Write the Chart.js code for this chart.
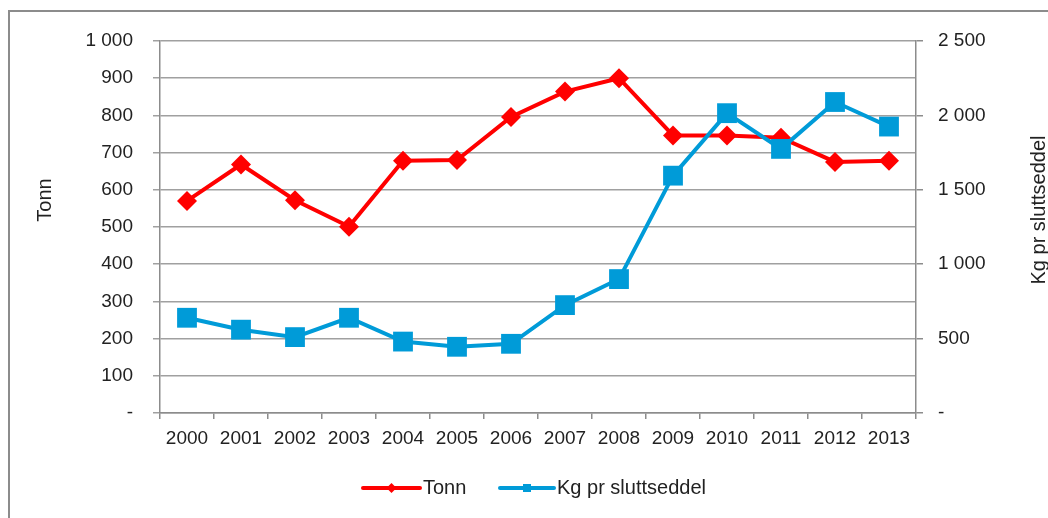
<!DOCTYPE html>
<html>
<head>
<meta charset="utf-8">
<script src="https://cdn.jsdelivr.net/npm/chart.js@4/dist/chart.umd.min.js"></script>
<style>
  html, body { margin: 0; padding: 0; background: #fff; overflow: hidden; width: 1048px; height: 518px; }
  #frame { position: absolute; left: 8px; top: 10px; width: 1200px; height: 700px; border-left: 2px solid #8c8c8c; border-top: 2px solid #8c8c8c; }
  #c { position: absolute; left: 0; top: 0; }
</style>
</head>
<body>
<div id="frame"></div>
<canvas id="c" width="1048" height="518"></canvas>
<script>
const years = ['2000','2001','2002','2003','2004','2005','2006','2007','2008','2009','2010','2011','2012','2013'];
const tonn = [570, 668, 572, 501, 678, 680, 796, 864, 900, 746, 746, 740, 675, 678];
const kgPrSluttseddel = [640, 560, 510, 640, 480, 445, 465, 725, 900, 1595, 2015, 1775, 2090, 1925];
const leftTitle = 'Tonn';
const rightTitle = 'Kg pr sluttseddel';
const seriesNames = ['Tonn', 'Kg pr sluttseddel'];

const RED = '#ff0000';
const BLUE = '#009bd8';
const FONT = "'Liberation Sans', Arial, sans-serif";

function fmt(v) {
  if (v === 0) return '-';
  return String(v).replace(/\B(?=(\d{3})+(?!\d))/g, ' ');
}

const extras = {
  id: 'extras',
  afterDraw(chart) {
    const ctx = chart.ctx;
    ctx.save();
    ctx.fillStyle = '#222';
    ctx.font = '20px ' + FONT;
    ctx.textAlign = 'center';
    ctx.textBaseline = 'middle';
    // axis titles
    ctx.save();
    ctx.translate(45, 200);
    ctx.rotate(-Math.PI / 2);
    ctx.fillText(leftTitle, 0, 0);
    ctx.restore();
    ctx.save();
    ctx.translate(1039, 210);
    ctx.rotate(-Math.PI / 2);
    ctx.fillText(rightTitle, 0, 0);
    ctx.restore();
    // legend
    const ly = 488;
    const items = [
      { x0: 363, x1: 420, color: RED, shape: 'diamond', text: seriesNames[0] },
      { x0: 500, x1: 554, color: BLUE, shape: 'square', text: seriesNames[1] }
    ];
    items.forEach(it => {
      ctx.strokeStyle = it.color;
      ctx.lineWidth = 4;
      ctx.lineCap = 'round';
      ctx.beginPath();
      ctx.moveTo(it.x0, ly);
      ctx.lineTo(it.x1, ly);
      ctx.stroke();
      ctx.fillStyle = it.color;
      const cx = (it.x0 + it.x1) / 2;
      ctx.beginPath();
      if (it.shape === 'diamond') {
        ctx.moveTo(cx, ly - 5); ctx.lineTo(cx + 5, ly); ctx.lineTo(cx, ly + 5); ctx.lineTo(cx - 5, ly);
        ctx.closePath();
      } else {
        ctx.rect(cx - 4, ly - 4, 8, 8);
      }
      ctx.fill();
      ctx.fillStyle = '#222';
      ctx.textAlign = 'left';
      ctx.fillText(it.text, it.x1 + 3, ly);
    });
    ctx.restore();
  }
};

new Chart(document.getElementById('c'), {
  type: 'line',
  data: {
    labels: years,
    datasets: [
      {
        label: seriesNames[0],
        data: tonn,
        yAxisID: 'y',
        borderColor: RED,
        backgroundColor: RED,
        borderWidth: 4,
        pointStyle: 'rectRot',
        pointRadius: 10,
        pointBorderWidth: 0,
        pointBackgroundColor: RED,
        tension: 0,
        order: 2
      },
      {
        label: seriesNames[1],
        data: kgPrSluttseddel,
        yAxisID: 'y2',
        borderColor: BLUE,
        backgroundColor: BLUE,
        borderWidth: 4,
        pointStyle: 'rect',
        pointRadius: 14,
        pointBorderWidth: 0,
        pointBackgroundColor: BLUE,
        tension: 0,
        order: 1
      }
    ]
  },
  options: {
    responsive: false,
    animation: false,
    devicePixelRatio: 1,
    layout: { padding: { top: 41, left: 0, right: 0, bottom: 0 } },
    plugins: { legend: { display: false }, tooltip: { enabled: false }, title: { display: false } },
    scales: {
      x: {
        offset: true,
        grid: { display: true, offset: true, drawOnChartArea: false, tickLength: 6, color: '#8c8c8c', lineWidth: 1.5 },
        border: { display: true, color: '#8c8c8c', width: 1.5 },
        ticks: { color: '#222', font: { family: FONT, size: 19 }, padding: 8, maxRotation: 0, autoSkip: false },
        afterFit(s) { s.height = 105; }
      },
      y: {
        position: 'left',
        min: 0, max: 1000,
        grid: { color: '#a0a0a0', lineWidth: 1.5, tickLength: 7, drawTicks: true },
        border: { display: true, color: '#8c8c8c', width: 1.5 },
        ticks: { stepSize: 100, color: '#222', font: { family: FONT, size: 19 }, padding: 20, callback: v => fmt(v) },
        afterFit(s) { s.width = 160; }
      },
      y2: {
        position: 'right',
        min: 0, max: 2500,
        grid: { drawOnChartArea: false, color: '#8c8c8c', lineWidth: 1.5, tickLength: 7 },
        border: { display: true, color: '#8c8c8c', width: 1.5 },
        ticks: { stepSize: 500, color: '#222', font: { family: FONT, size: 19 }, padding: 15, callback: v => fmt(v) },
        afterFit(s) { s.width = 132; }
      }
    }
  },
  plugins: [extras]
});
</script>
</body>
</html>
